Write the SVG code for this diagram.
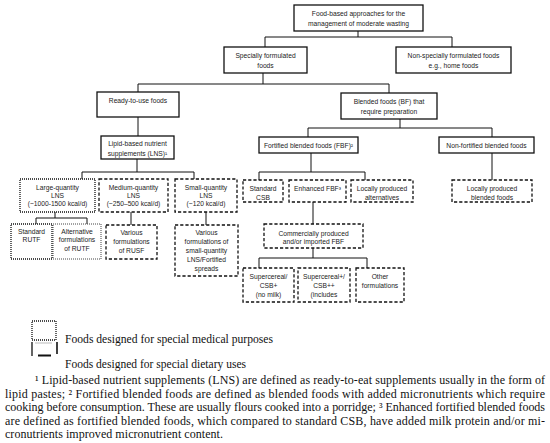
<svg xmlns="http://www.w3.org/2000/svg" width="550" height="443" viewBox="0 0 550 443">
<style>
  .n { fill: #fff; stroke: #111; }
  .solid { stroke-width: 1.3; }
  .dot { stroke-width: 1.3; stroke-dasharray: 1 1; }
  .dotl { stroke-width: 1; stroke-dasharray: 1 1; stroke: #444; }
  .dash { stroke-width: 1.3; stroke-dasharray: 3.2 2; }
  .t { font-family: "Liberation Sans", Arial, sans-serif; font-size: 6.7px; fill: #222; text-anchor: middle; }
  .c { fill: none; stroke: #111; stroke-width: 1; }
  .f { font-family: "Liberation Serif", "Times New Roman", serif; font-size: 12px; fill: #111; }
</style>
<rect width="550" height="443" fill="#fff"/>

<g id="connectors">
  <path class="c" d="M358,31 V37 M265,47 V37 H452 V47"/>
  <path class="c" d="M263,73 V84 M138,92 V84 H389 V93"/>
  <path class="c" d="M138,117 V136"/>
  <path class="c" d="M400,119 V128 M308,137 V128 H492 V137"/>
  <path class="c" d="M137,159 V172 M82,179 V172 H194 V179"/>
  <path class="c" d="M55,212 V218 M36,224 V218 H87 V224"/>
  <path class="c" d="M131,212 V225"/>
  <path class="c" d="M206,212 V225"/>
  <path class="c" d="M311,153 V172 M259,180 V172 H365 V180"/>
  <path class="c" d="M492,153 V180"/>
  <path class="c" d="M313,202 V224"/>
  <path class="c" d="M313,248 V258 M259,268 V258 H367 V268"/>
</g>

<g id="n-root">
  <rect class="n solid" x="294" y="5" width="129" height="26"/>
  <text class="t" x="358.5" y="15.5">Food-based approaches for the</text>
  <text class="t" x="358.5" y="25.5">management of moderate wasting</text>
</g>
<g id="n-special">
  <rect class="n solid" x="224" y="47" width="83" height="26"/>
  <text class="t" x="265.5" y="57.5">Specially formulated</text>
  <text class="t" x="265.5" y="67.5">foods</text>
</g>
<g id="n-nonspecial">
  <rect class="n solid" x="396" y="47" width="115" height="26"/>
  <text class="t" x="453.5" y="57.5">Non-specially formulated foods</text>
  <text class="t" x="453.5" y="67.5">e.g., home foods</text>
</g>
<g id="n-rutf">
  <rect class="n solid" x="97" y="92" width="82" height="25"/>
  <text class="t" x="138" y="103">Ready-to-use foods</text>
</g>
<g id="n-blended">
  <rect class="n solid" x="341" y="93" width="96" height="26"/>
  <text class="t" x="389" y="104">Blended foods (BF) that</text>
  <text class="t" x="389" y="114">require preparation</text>
</g>
<g id="n-lns">
  <rect class="n solid" x="101" y="136" width="73" height="23"/>
  <text class="t" x="137.5" y="146">Lipid-based nutrient</text>
  <text class="t" x="137.5" y="155.5">supplements (LNS)¹</text>
</g>
<g id="n-fbf">
  <rect class="n solid" x="259" y="137" width="99" height="16"/>
  <text class="t" x="308.5" y="147.5">Fortified blended foods (FBF)²</text>
</g>
<g id="n-nonfbf">
  <rect class="n solid" x="439" y="137" width="95" height="16"/>
  <text class="t" x="486.5" y="147.5">Non-fortified blended foods</text>
</g>
<g id="n-large">
  <rect class="n dot" x="20" y="179" width="75" height="33"/>
  <text class="t" x="57.5" y="189.5">Large-quantity</text>
  <text class="t" x="57.5" y="197.5">LNS</text>
  <text class="t" x="57.5" y="205.5">(~1000-1500 kcal/d)</text>
</g>
<g id="n-medium">
  <rect class="n dash" x="99" y="179" width="69" height="33"/>
  <text class="t" x="133.5" y="189.5">Medium-quantity</text>
  <text class="t" x="133.5" y="197.5">LNS</text>
  <text class="t" x="133.5" y="205.5">(~250–500 kcal/d)</text>
</g>
<g id="n-small">
  <rect class="n dash" x="175" y="179" width="62" height="33"/>
  <text class="t" x="206" y="189.5">Small-quantity</text>
  <text class="t" x="206" y="197.5">LNS</text>
  <text class="t" x="206" y="205.5">(~120 kcal/d)</text>
</g>
<g id="n-std-rutf">
  <rect class="n dot" x="11" y="224" width="41" height="35"/>
  <text class="t" x="31.5" y="233.5">Standard</text>
  <text class="t" x="31.5" y="241.5">RUTF</text>
</g>
<g id="n-alt-rutf">
  <rect class="n dotl" x="53" y="224" width="48" height="35"/>
  <text class="t" x="77" y="233.5">Alternative</text>
  <text class="t" x="77" y="242">formulations</text>
  <text class="t" x="77" y="250.5">of RUTF</text>
</g>
<g id="n-rusf">
  <rect class="n dash" x="106" y="225" width="51" height="34"/>
  <text class="t" x="131.5" y="234.5">Various</text>
  <text class="t" x="131.5" y="243.5">formulations</text>
  <text class="t" x="131.5" y="252.5">of RUSF</text>
</g>
<g id="n-sq-various">
  <rect class="n dash" x="175" y="225" width="63" height="51"/>
  <text class="t" x="206.5" y="234.5">Various</text>
  <text class="t" x="206.5" y="243.5">formulations of</text>
  <text class="t" x="206.5" y="252.5">small-quantity</text>
  <text class="t" x="206.5" y="261.5">LNS/Fortified</text>
  <text class="t" x="206.5" y="270.5">spreads</text>
</g>
<g id="n-std-csb">
  <rect class="n dash" x="243" y="180" width="40" height="22"/>
  <text class="t" x="263" y="190.5">Standard</text>
  <text class="t" x="263" y="199.5">CSB</text>
</g>
<g id="n-enhanced">
  <rect class="n dash" x="289" y="180" width="57" height="22"/>
  <text class="t" x="317.5" y="190.5">Enhanced FBF³</text>
</g>
<g id="n-local-alt">
  <rect class="n dash" x="351" y="180" width="62" height="22"/>
  <text class="t" x="382" y="190.5">Locally produced</text>
  <text class="t" x="382" y="199.5">alternatives</text>
</g>
<g id="n-local-bf">
  <rect class="n dash" x="452" y="180" width="80" height="22"/>
  <text class="t" x="492" y="190.5">Locally produced</text>
  <text class="t" x="492" y="199.5">blended foods</text>
</g>
<g id="n-commercial">
  <rect class="n dash" x="264" y="224" width="99" height="24"/>
  <text class="t" x="313.5" y="235.5">Commercially produced</text>
  <text class="t" x="313.5" y="243.5">and/or imported FBF</text>
</g>
<g id="n-csbplus">
  <rect class="n dash" x="243" y="268" width="51" height="34"/>
  <text class="t" x="268.5" y="278.5">Supercereal/</text>
  <text class="t" x="268.5" y="287.5">CSB+</text>
  <text class="t" x="268.5" y="296.5">(no milk)</text>
</g>
<g id="n-csbplusplus">
  <rect class="n dash" x="298" y="268" width="52" height="34"/>
  <text class="t" x="324" y="278.5">Supercereal+/</text>
  <text class="t" x="324" y="287.5">CSB++</text>
  <text class="t" x="324" y="296.5">(includes</text>
</g>
<g id="n-other">
  <rect class="n dash" x="356" y="268" width="48" height="34"/>
  <text class="t" x="380" y="278.5">Other</text>
  <text class="t" x="380" y="287.5">formulations</text>
</g>

<g id="legend">
  <rect x="32" y="321" width="24" height="19" fill="none" stroke="#111" stroke-width="1.3" stroke-dasharray="1 1"/>
  <text class="f" x="65" y="343" textLength="208" lengthAdjust="spacingAndGlyphs">Foods designed for special medical purposes</text>
  <path d="M35,343 H52" stroke="#bbb" stroke-width="1" fill="none"/>
  <path d="M32,342 V356" stroke="#111" stroke-width="1.3" fill="none"/>
  <path d="M38,355.5 H51" stroke="#111" stroke-width="2" fill="none"/>
  <path d="M57,342 V354" stroke="#111" stroke-width="1.6" fill="none"/>
  <text class="f" x="65" y="368" textLength="181" lengthAdjust="spacingAndGlyphs">Foods designed for special dietary uses</text>
</g>

<g id="footnotes">
  <text class="f" x="35" y="384" textLength="510" lengthAdjust="spacing">¹ Lipid-based nutrient supplements (LNS) are defined as ready-to-eat supplements usually in the form of</text>
  <text class="f" x="5" y="397.5" textLength="540" lengthAdjust="spacing">lipid pastes; ² Fortified blended foods are defined as blended foods with added micronutrients which require</text>
  <text class="f" x="5" y="411" textLength="540" lengthAdjust="spacing">cooking before consumption. These are usually flours cooked into a porridge; ³ Enhanced fortified blended foods</text>
  <text class="f" x="5" y="424.5" textLength="540" lengthAdjust="spacing">are defined as fortified blended foods, which compared to standard CSB, have added milk protein and/or mi-</text>
  <text class="f" x="5" y="438" textLength="218" lengthAdjust="spacing">cronutrients improved micronutrient content.</text>
</g>
</svg>
